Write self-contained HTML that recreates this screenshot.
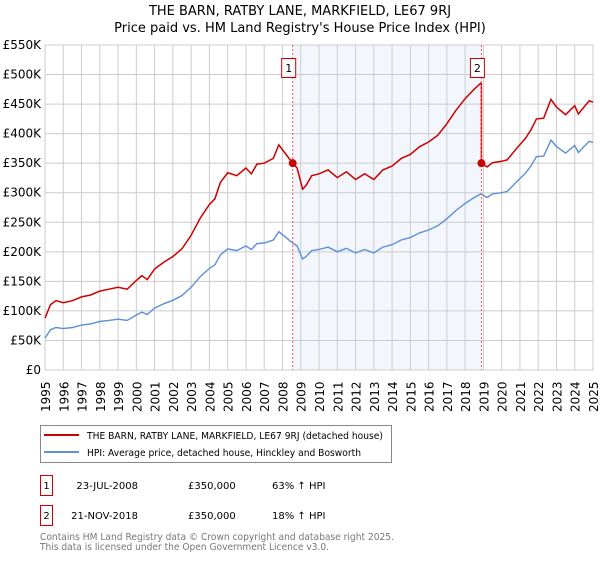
<!DOCTYPE html>
<html><head><meta charset="utf-8"><style>
body{margin:0;background:#fff;font-family:"DejaVu Sans","Liberation Sans",sans-serif;}
svg text{font-family:"DejaVu Sans","Liberation Sans",sans-serif;}
</style></head><body>
<svg width="600" height="560" viewBox="0 0 600 560">
<text x="300" y="15" text-anchor="middle" font-size="13">THE BARN, RATBY LANE, MARKFIELD, LE67 9RJ</text>
<text x="300" y="32" text-anchor="middle" font-size="13">Price paid vs. HM Land Registry's House Price Index (HPI)</text>
<g id="plot"></g>
<g>
<rect x="40.5" y="425.5" width="351" height="37" fill="#fff" stroke="#888"/>
<line x1="44" y1="435" x2="79" y2="435" stroke="#cc0000" stroke-width="2"/>
<text x="87" y="439" font-size="10" textLength="296" lengthAdjust="spacingAndGlyphs">THE BARN, RATBY LANE, MARKFIELD, LE67 9RJ (detached house)</text>
<line x1="44" y1="452" x2="79" y2="452" stroke="#5b8fd6" stroke-width="2"/>
<text x="87" y="456" font-size="10" textLength="274" lengthAdjust="spacingAndGlyphs">HPI: Average price, detached house, Hinckley and Bosworth</text>
</g>
<g font-size="10">
<rect x="40.5" y="475.5" width="12" height="20" fill="#fff" stroke="#cc0000"/>
<text x="46.5" y="489" text-anchor="middle">1</text>
<text x="138" y="489" text-anchor="end">23-JUL-2008</text>
<text x="188" y="489">£350,000</text>
<text x="272" y="489">63% ↑ HPI</text>
<rect x="40.5" y="505.5" width="12" height="20" fill="#fff" stroke="#cc0000"/>
<text x="46.5" y="519" text-anchor="middle">2</text>
<text x="138" y="519" text-anchor="end">21-NOV-2018</text>
<text x="188" y="519">£350,000</text>
<text x="272" y="519">18% ↑ HPI</text>
</g>
<text x="40" y="540" font-size="10" fill="#777" textLength="354" lengthAdjust="spacingAndGlyphs">Contains HM Land Registry data © Crown copyright and database right 2025.</text>
<text x="40" y="550" font-size="10" fill="#777" textLength="289" lengthAdjust="spacingAndGlyphs">This data is licensed under the Open Government Licence v3.0.</text>
</svg>
<script>
const hpiYears=[1995,1995.3,1995.6,1996,1996.5,1997,1997.5,1998,1998.5,1999,1999.5,2000,2000.3,2000.6,2001,2001.5,2002,2002.5,2003,2003.5,2004,2004.3,2004.6,2005,2005.5,2006,2006.3,2006.6,2007,2007.5,2007.8,2008.2,2008.56,2008.8,2009.1,2009.3,2009.6,2010,2010.5,2011,2011.5,2012,2012.5,2013,2013.5,2014,2014.5,2015,2015.5,2016,2016.5,2017,2017.5,2018,2018.5,2018.85,2019.2,2019.5,2020,2020.3,2020.8,2021.3,2021.6,2021.9,2022.3,2022.7,2023.0,2023.5,2024,2024.2,2024.5,2024.8,2025];
const hpiValues=[54,68,72,70,72,76,78,82,84,86,84,93,98,94,105,112,118,126,140,158,172,178,195,205,202,210,204,214,215,220,234,224,215,210,188,192,202,204,208,200,206,198,204,198,208,212,220,224,232,237,244,256,270,282,292,298,292,298,300,302,318,333,345,361,362,389,378,367,380,368,378,387,385];
const saleYears=[2008.56,2018.89];
const saleValues=[350,350];
const yTicks=[0,50,100,150,200,250,300,350,400,450,500,550];
const yTickLabels=["£0","£50K","£100K","£150K","£200K","£250K","£300K","£350K","£400K","£450K","£500K","£550K"];
const xTicks=[1995,1996,1997,1998,1999,2000,2001,2002,2003,2004,2005,2006,2007,2008,2009,2010,2011,2012,2013,2014,2015,2016,2017,2018,2019,2020,2021,2022,2023,2024,2025];

const X0=45,X1=593,Y0=370,Y1=45;
const xs=y=>X0+(y-1995)/30*(X1-X0);
const ys=v=>Y0-v/550*(Y0-Y1);
const NS="http://www.w3.org/2000/svg";
const g=document.getElementById('plot');
function mk(t,a,p){const e=document.createElementNS(NS,t);for(const k in a)e.setAttribute(k,a[k]);(p||g).appendChild(e);return e;}
function interp(yr){for(let i=1;i<hpiYears.length;i++){if(yr<=hpiYears[i]){const t=(yr-hpiYears[i-1])/(hpiYears[i]-hpiYears[i-1]);return hpiValues[i-1]+t*(hpiValues[i]-hpiValues[i-1]);}}return hpiValues[hpiValues.length-1];}

let e=mk('rect',{x:xs(saleYears[0]),y:Y1,width:xs(saleYears[1])-xs(saleYears[0]),height:Y0-Y1,fill:'#eef3fc',opacity:0.7});


yTicks.forEach((v,i)=>{
 const l=mk('line',{x1:X0,x2:X1,y1:ys(v),y2:ys(v),stroke:'#cccccc','stroke-width':1});
 
 
 const t=mk('text',{x:X0-4,y:ys(v)+4,'text-anchor':'end','font-size':12});
 t.textContent=yTickLabels[i];
 
 
});
xTicks.forEach(yr=>{
 const l=mk('line',{x1:xs(yr),x2:xs(yr),y1:Y1,y2:Y0,stroke:'#cccccc','stroke-width':1});
 
 
 const t=mk('text',{x:0,y:0,'font-size':12,transform:`translate(${xs(yr)+5},${Y0+42}) rotate(-90)`});
 t.textContent=yr;
 
 
});
e=mk('rect',{x:X0,y:Y1,width:X1-X0,height:Y0-Y1,fill:'none',stroke:'#cccccc'});



let d=hpiYears.map((yr,i)=>(i?'L':'M')+xs(yr).toFixed(1)+','+ys(hpiValues[i]).toFixed(1)).join('');
e=mk('path',{d:d,fill:'none',stroke:'#5b8fd6','stroke-width':1.4});



const f1=saleValues[0]/interp(saleYears[0]);
const f2=saleValues[1]/interp(saleYears[1]);
let pts=[];
hpiYears.forEach((yr,i)=>{ if(yr<saleYears[1]) pts.push([yr,hpiValues[i]*f1]); });
pts.push([saleYears[1],interp(saleYears[1])*f1]);
pts.push([saleYears[1],saleValues[1]]);
hpiYears.forEach((yr,i)=>{ if(yr>saleYears[1]) pts.push([yr,hpiValues[i]*f2]); });
d=pts.map((p,i)=>(i?'L':'M')+xs(p[0]).toFixed(1)+','+ys(p[1]).toFixed(1)).join('');
e=mk('path',{d:d,fill:'none',stroke:'#cc0000','stroke-width':1.5});



saleYears.forEach((yr,i)=>{
 const l=mk('line',{x1:xs(yr),x2:xs(yr),y1:Y1,y2:Y0,stroke:'#e06060','stroke-width':1,'stroke-dasharray':'2,2'});
 
 
 const c=mk('circle',{cx:xs(yr),cy:ys(saleValues[i]),r:4,fill:'#cc0000'});
 
 
 const b=mk('rect',{x:xs(yr)-11,y:58.5,width:14,height:19,fill:'#fff',stroke:'#cc0000'});
 
 
 const t=mk('text',{x:xs(yr)-4,y:72,'text-anchor':'middle','font-size':11});
 t.textContent=String(i+1);
 
 
});
</script>
</body></html>
